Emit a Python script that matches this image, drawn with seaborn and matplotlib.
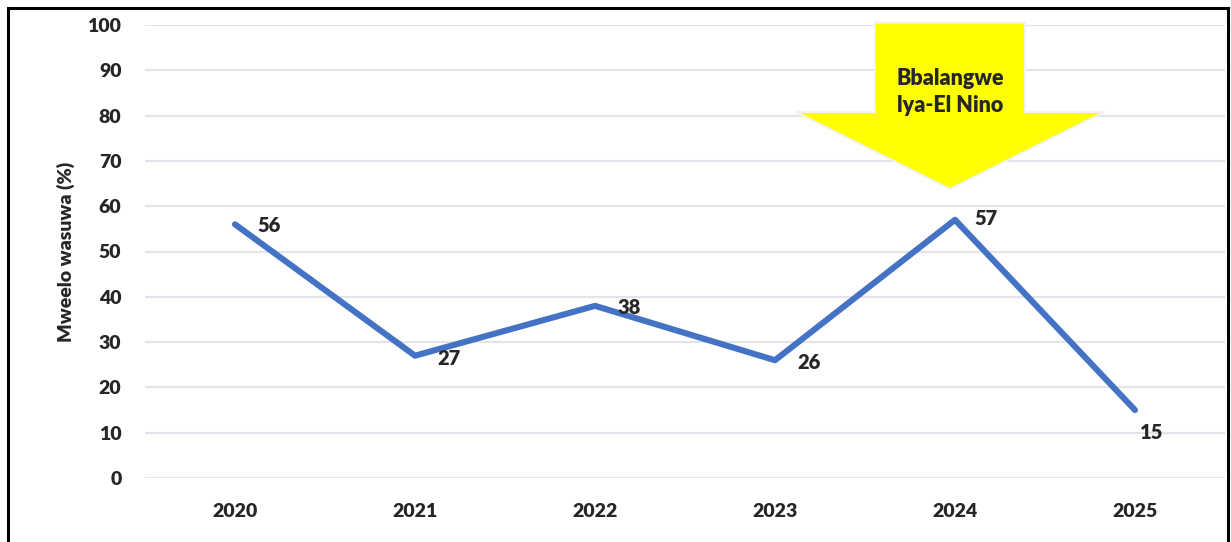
import matplotlib
matplotlib.use('Agg')
import matplotlib.pyplot as plt
import seaborn as sns
import pandas as pd

years = ["2020", "2021", "2022", "2023", "2024", "2025"]
values = [56, 27, 38, 26, 57, 15]
y_ticks = [0, 10, 20, 30, 40, 50, 60, 70, 80, 90, 100]
y_label = "Mweelo wasuwa (%)"
arrow_text = "Bbalangwe\nlya-El Nino"
arrow_year = "2024"

sns.set_style("white")
plt.rcParams['font.family'] = ['Lato', 'DejaVu Sans']
W = 'heavy'

df = pd.DataFrame({"year": years, "value": values})

fig = plt.figure(figsize=(12.31, 5.42), dpi=100)
ax = fig.add_axes([145 / 1231, 1 - 478 / 542, 1080 / 1231, 453 / 542])

sns.lineplot(data=df, x="year", y="value", color="#4472C4", linewidth=4.4,
             solid_capstyle='round', solid_joinstyle='round', ax=ax, zorder=3)

ax.set_xlim(-0.5, len(years) - 0.5)
ax.set_ylim(0, 100)
ax.set_yticks(y_ticks)
ax.yaxis.grid(True, color="#E1E4EA", linewidth=1.5)
ax.set_axisbelow(True)
for side in ax.spines.values():
    side.set_visible(False)
ax.tick_params(axis='y', length=0, pad=17, labelsize=14)
ax.tick_params(axis='x', length=0, pad=18, labelsize=14)
for lab in ax.get_xticklabels() + ax.get_yticklabels():
    lab.set_fontweight(W)
ax.set_xlabel("")
ax.set_ylabel(y_label, fontsize=14, fontweight=W, labelpad=9)

# data labels
offsets = [(16, -1), (16, -2), (16, -1), (16, -2), (14, 1), (12, -16)]
for i, (v, off) in enumerate(zip(values, offsets)):
    ha = 'center' if i == len(values) - 1 else 'left'
    ax.annotate(str(v), (i, v), xytext=off, textcoords='offset points',
                ha=ha, va='center', fontsize=14.5, fontweight=W, zorder=5)

# yellow arrow pointing down at the El Nino year
cx = years.index(arrow_year) - 0.028
shaft_w, head_w = 0.417, 0.856
top, head_base, tip = 100.5, 80.8, 63.8
xs = [cx - shaft_w, cx + shaft_w, cx + shaft_w, cx + head_w, cx,
      cx - head_w, cx - shaft_w]
ys = [top, top, head_base, head_base, tip, head_base, head_base]
ax.fill(xs, ys, facecolor="#FFFF00", edgecolor="#F2F2F2", linewidth=1.5,
        clip_on=False, zorder=4)
ax.text(cx, 85.3, arrow_text, ha='center', va='center', fontsize=15.5,
        fontweight=W, linespacing=1.35, zorder=6)

# outer border
fig.patches.append(plt.Rectangle((8 / 1231, -0.1), 1220 / 1231, 1 - 8 / 542 + 0.1,
                                 transform=fig.transFigure, fill=False,
                                 edgecolor='black', linewidth=2.2))

fig.savefig("out.png", dpi=100)
